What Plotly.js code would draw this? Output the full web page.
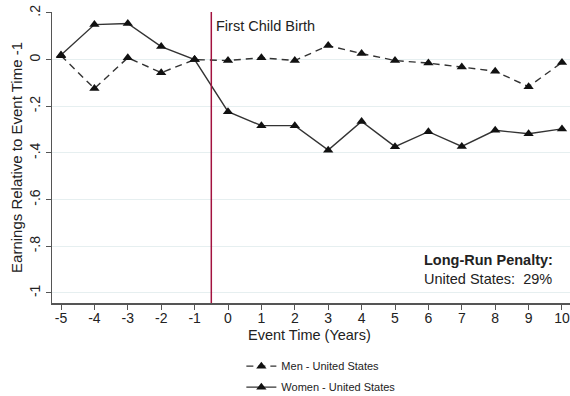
<!DOCTYPE html>
<html><head><meta charset="utf-8">
<script src="https://cdn.plot.ly/plotly-3.0.1.min.js"></script>
<style>html,body{margin:0;padding:0;background:#fff}#chart{width:570px;height:396px}</style>
</head><body><div id="chart"></div>
<script>
const eventTime = [-5,-4,-3,-2,-1,0,1,2,3,4,5,6,7,8,9,10];
const xTickText = ['-5','-4','-3','-2','-1','0','1','2','3','4','5','6','7','8','9','10'];
const men   = [0.017,-0.124,0.008,-0.056,0,-0.004,0.008,-0.004,0.06,0.026,-0.004,-0.015,-0.032,-0.05,-0.116,-0.012];
const women = [0.02,0.15,0.155,0.056,0,-0.223,-0.283,-0.283,-0.388,-0.265,-0.373,-0.309,-0.372,-0.303,-0.318,-0.297];
const yTickVals = [0.2,0,-0.2,-0.4,-0.6,-0.8,-1];
const yTickText = ['.2','0','-.2','-.4','-.6','-.8','-1'];
const birthLine = -0.5;
const xTitle = 'Event Time (Years)';
const penaltyText = ['Long-Run Penalty:', 'United States:\u00a0\u00a029%'];

const font = "Liberation Sans, Arial, sans-serif";
const traces = [
  {x: eventTime, y: men, name: 'Men - United States', mode: 'lines+markers', legendgroup: 'm',
   line: {color: '#333', width: 1.4, dash: '7px,5px'},
   marker: {symbol: 'triangle-up', size: 9, color: '#111'}},
  {x: eventTime, y: women, name: 'Women - United States', mode: 'lines+markers', legendgroup: 'w',
   line: {color: '#333', width: 1.4},
   marker: {symbol: 'triangle-up', size: 9, color: '#111'}}
];
const layout = {
  width: 570, height: 396,
  margin: {l: 52, r: 0, t: 12, b: 93},
  paper_bgcolor: '#fff', plot_bgcolor: '#fff',
  font: {family: font, color: '#222', size: 14},
  showlegend: true,
  legend: {x: 0.52, xanchor: 'center', yref: 'container', y: 0.112, yanchor: 'top', orientation: 'v',
           font: {size: 11, color: '#222'}, tracegroupgap: 2, bgcolor: 'rgba(0,0,0,0)'},
  xaxis: {range: [-5.27, 10.24], tickvals: eventTime, ticktext: xTickText, ticks: 'outside', ticklen: 5,
          ticklabelstandoff: -3,
          tickcolor: '#555', showline: true, linecolor: '#555', linewidth: 1.5,
          showgrid: false, zeroline: false, tickfont: {size: 14}},
  yaxis: {range: [-1.043, 0.204], tickvals: yTickVals, ticktext: yTickText, tickangle: -90,
          ticks: 'outside', ticklen: 5, tickcolor: '#555', showline: true, linecolor: '#555',
          linewidth: 1.5, showgrid: true, gridcolor: '#e6eff0', gridwidth: 1, zeroline: false,
          tickfont: {size: 14},
          title: {text: 'Earnings Relative to Event Time -1', font: {size: 15}, standoff: 0}},
  shapes: [{type: 'line', xref: 'x', yref: 'paper', x0: birthLine, x1: birthLine, y0: 0, y1: 1,
            line: {color: '#a3123f', width: 1.5}}],
  annotations: [
    {x: 0.497, xref: 'paper', xanchor: 'center', y: -0.11, yref: 'paper', yanchor: 'middle',
     text: xTitle, showarrow: false, font: {size: 14.5, color: '#222'}},
    {x: birthLine, xref: 'x', xanchor: 'left', xshift: 3, y: 0.145, yref: 'y', yanchor: 'middle',
     text: 'First Child Birth', showarrow: false, font: {size: 14.5, color: '#222'}},
    {x: 5.81, xref: 'x', xanchor: 'left', y: -0.90, yref: 'y', yanchor: 'middle', align: 'left',
     text: '<b>' + penaltyText[0] + '</b><br>' + penaltyText[1], showarrow: false,
     font: {size: 14.5, color: '#222'}}
  ]
};
Plotly.newPlot('chart', traces, layout, {displayModeBar: false, staticPlot: true});
</script></body></html>
